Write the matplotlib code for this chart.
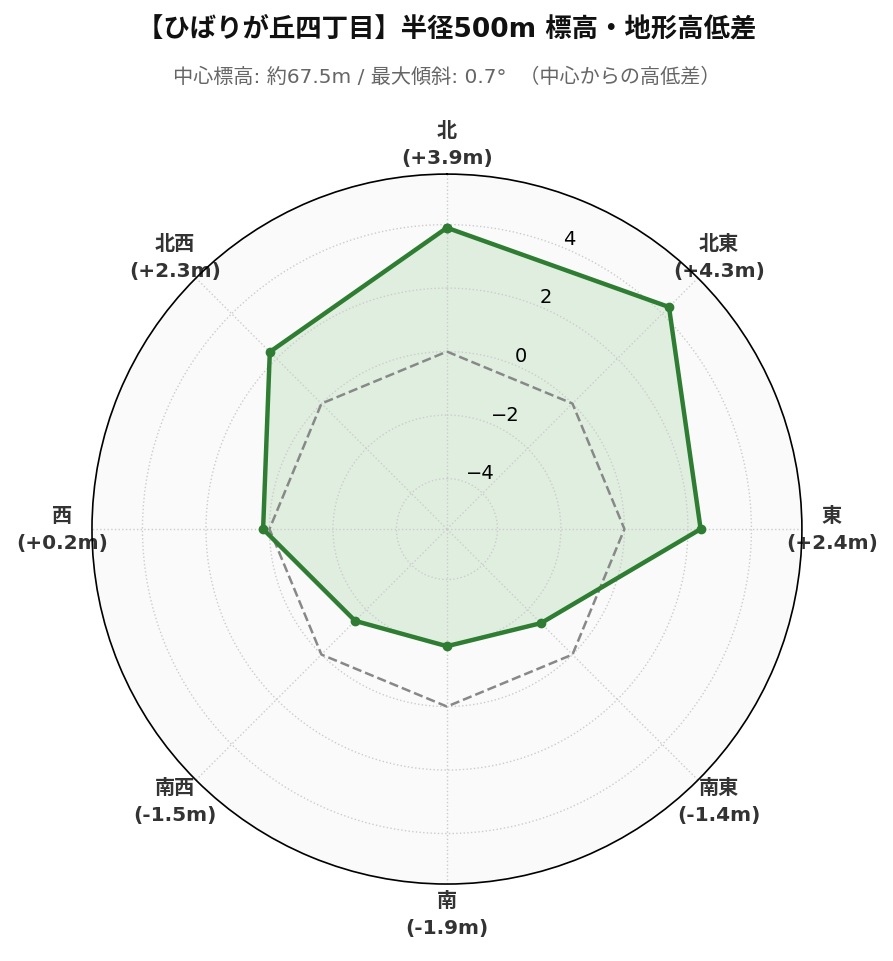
import numpy as np
import matplotlib
matplotlib.use("Agg")
import matplotlib.pyplot as plt

plt.rcParams['font.family'] = ['DejaVu Sans', 'Noto Sans CJK JP']

# 方位ごとの中心からの高低差 (m)
directions = ["北", "北東", "東", "南東", "南", "南西", "西", "北西"]
diffs = [3.9, 4.3, 2.4, -1.4, -1.9, -1.5, 0.2, 2.3]
rticks = [-4, -2, 0, 2, 4]

title = "【ひばりが丘四丁目】半径500m 標高・地形高低差"
subtitle = "中心標高: 約67.5m / 最大傾斜: 0.7°  （中心からの高低差）"

green = "#2e7d32"
lim = max(abs(v) for v in diffs) * 1.3

angles = np.linspace(0, 2 * np.pi, len(directions), endpoint=False)
a_closed = np.append(angles, angles[0])
v_closed = np.append(diffs, diffs[0])

fig = plt.figure(figsize=(8.93, 9.62), dpi=100)
ax = fig.add_axes([0.103, 0.080, 0.795, 0.738], projection="polar")
ax.set_theta_zero_location("N")
ax.set_theta_direction(-1)
ax.set_facecolor("#fafafa")

# ゼロ基準線
ax.plot(a_closed, np.zeros_like(a_closed), color="#888888", linestyle="--", linewidth=1.8)
ax.fill(a_closed, v_closed, color="#4caf50", alpha=0.15)
ax.plot(a_closed, v_closed, color=green, linewidth=3.2, marker="o", markersize=6)

ax.set_ylim(-lim, lim)
ax.set_yticks(rticks)
ax.set_rlabel_position(22.5)
ax.tick_params(axis="y", labelsize=14)

labels = [f"{d}\n({v:+.1f}m)" for d, v in zip(directions, diffs)]
ax.set_xticks(angles)
ax.set_xticklabels(labels, fontsize=14.5, fontweight="bold", color="#333333", linespacing=1.5)
ax.tick_params(axis="x", pad=11)

ax.grid(True, color="#cccccc", linestyle=":", linewidth=1)
ax.spines["polar"].set_color("black")
ax.spines["polar"].set_linewidth(1.2)

fig.text(0.5, 0.969, title, ha="center", va="center", fontsize=19, fontweight="bold", color="#111111")
fig.text(0.5, 0.920, subtitle, ha="center", va="center", fontsize=14.5, color="#666666")

fig.savefig("out.png", dpi=100)
